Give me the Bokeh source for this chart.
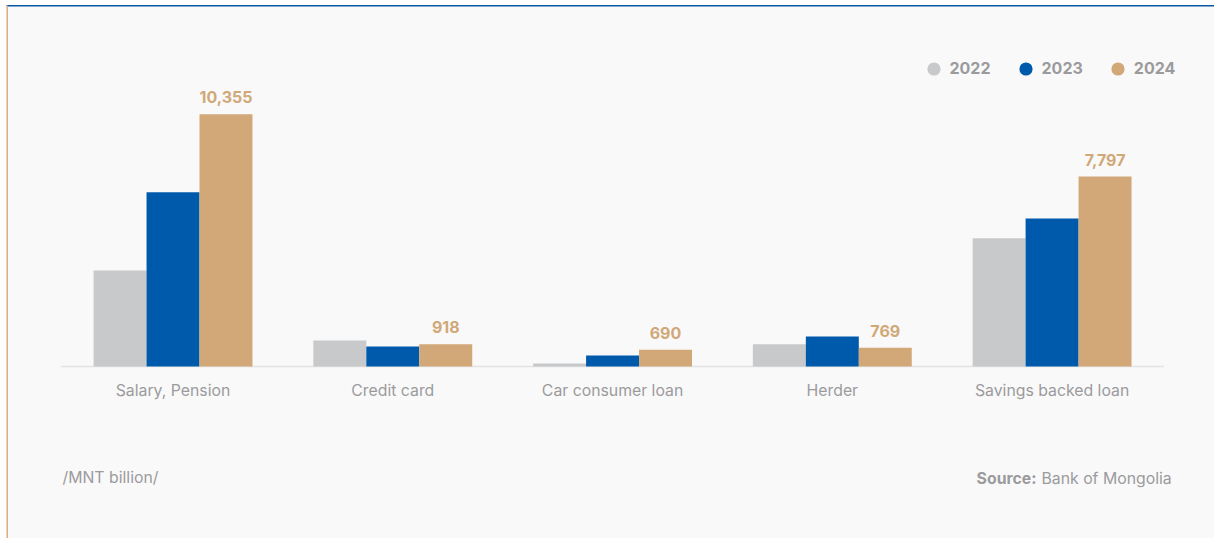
import numpy as np
from bokeh.plotting import figure
from bokeh.models import (ColumnDataSource, Range1d, Legend, LegendItem, Label, BoxAnnotation)
from bokeh.core.properties import value
from bokeh.embed import file_html
from bokeh.resources import INLINE

# ---- data ----
categories = ["Salary, Pension", "Credit card", "Car consumer loan", "Herder", "Savings backed loan"]
years = ["2022", "2023", "2024"]
v2022 = [3945, 1068, 123, 915, 5260]
v2023 = [7150, 822, 450, 1230, 6080]
v2024 = [10355, 918, 690, 769, 7797]
colors = ["#c8c9cb", "#005aab", "#d2a878"]

W, H = 1214, 538
FONT = "Inter"
GREY_TXT = "#9b9b9d"

p = figure(width=W, height=H, min_border=0, output_backend="svg", toolbar_location=None,
           x_range=Range1d(-0.785, 4.739), y_range=Range1d(-7061, 15024),
           x_axis_location=None, y_axis_location=None)
p.outline_line_color = None
p.border_fill_color = "#ffffff"
p.background_fill_color = "#ffffff"
p.xgrid.grid_line_color = None
p.ygrid.grid_line_color = None

# page panel background, top blue rule, left tan rule (screen units)
p.add_layout(BoxAnnotation(left=6, right=W, top=H - 5, bottom=0,
                           left_units="screen", right_units="screen", top_units="screen", bottom_units="screen",
                           fill_color="#f9f9f9", fill_alpha=1, line_color=None, level="underlay"))
p.add_layout(BoxAnnotation(left=6, right=W, top=H - 4.5, bottom=H - 6,
                           left_units="screen", right_units="screen", top_units="screen", bottom_units="screen",
                           fill_color="#0a5aa6", fill_alpha=1, line_color=None, level="underlay"))
p.add_layout(BoxAnnotation(left=6, right=7.5, top=H - 5, bottom=0,
                           left_units="screen", right_units="screen", top_units="screen", bottom_units="screen",
                           fill_color="#dcae84", fill_alpha=1, line_color=None, level="underlay"))

idx = np.arange(len(categories), dtype=float)
bw = 0.241
n = len(categories)

# baseline
p.segment(x0=[-0.51], y0=[0], x1=[n - 0.49], y1=[0], line_color="#e3e3e5", line_width=1.6)

series = [v2022, v2023, v2024]
for j, (vals, col) in enumerate(zip(series, colors)):
    src = ColumnDataSource(dict(x=idx + (j - 1) * bw, top=vals))
    p.vbar(x="x", top="top", bottom=0, width=bw, source=src, fill_color=col, line_color=None)

# value labels for 2024
lab_src = ColumnDataSource(dict(x=idx + bw, y=v2024, t=[f"{v:,}" for v in v2024]))
p.text(x="x", y="y", text="t", source=lab_src, text_align="center", text_baseline="alphabetic",
       y_offset=-17, text_font=value(FONT), text_font_size="16px", text_font_style="bold",
       text_color="#d1a878")

# category labels
cat_src = ColumnDataSource(dict(x=idx, y=np.zeros(n), t=categories))
p.text(x="x", y="y", text="t", source=cat_src, text_align="center", text_baseline="alphabetic",
       y_offset=24, text_font=value(FONT), text_font_size="15.8px", text_color=GREY_TXT)

# legend (circle markers)
items = []
for yr, col in zip(years, colors):
    r = p.scatter(x=[np.nan], y=[np.nan], marker="circle", fill_color=col, line_color=None)
    items.append(LegendItem(label=yr, renderers=[r], index=0))
legend = Legend(items=items, orientation="horizontal", location=(916.5, H - 84.5),
                glyph_width=33, glyph_height=33, label_standoff=0, spacing=18,
                padding=0, margin=0, border_line_color=None, background_fill_alpha=0,
                label_text_font=FONT, label_text_font_size="16px", label_text_font_style="bold",
                label_text_color=GREY_TXT, label_text_baseline="middle")
p.add_layout(legend)

# footnotes
p.add_layout(Label(x=62, y=H - 477, x_units="screen", y_units="screen", text="/MNT billion/",
                   text_font=FONT, text_font_size="15.8px", text_color=GREY_TXT,
                   text_align="left", text_baseline="alphabetic"))
p.add_layout(Label(x=1036, y=H - 478, x_units="screen", y_units="screen", text="Source:",
                   text_font=FONT, text_font_size="15.8px", text_font_style="bold", text_color=GREY_TXT,
                   text_align="right", text_baseline="alphabetic"))
p.add_layout(Label(x=1041, y=H - 478, x_units="screen", y_units="screen", text="Bank of Mongolia",
                   text_font=FONT, text_font_size="15.8px", text_color=GREY_TXT,
                   text_align="left", text_baseline="alphabetic"))

open("out.html", "w").write(file_html(p, INLINE))
